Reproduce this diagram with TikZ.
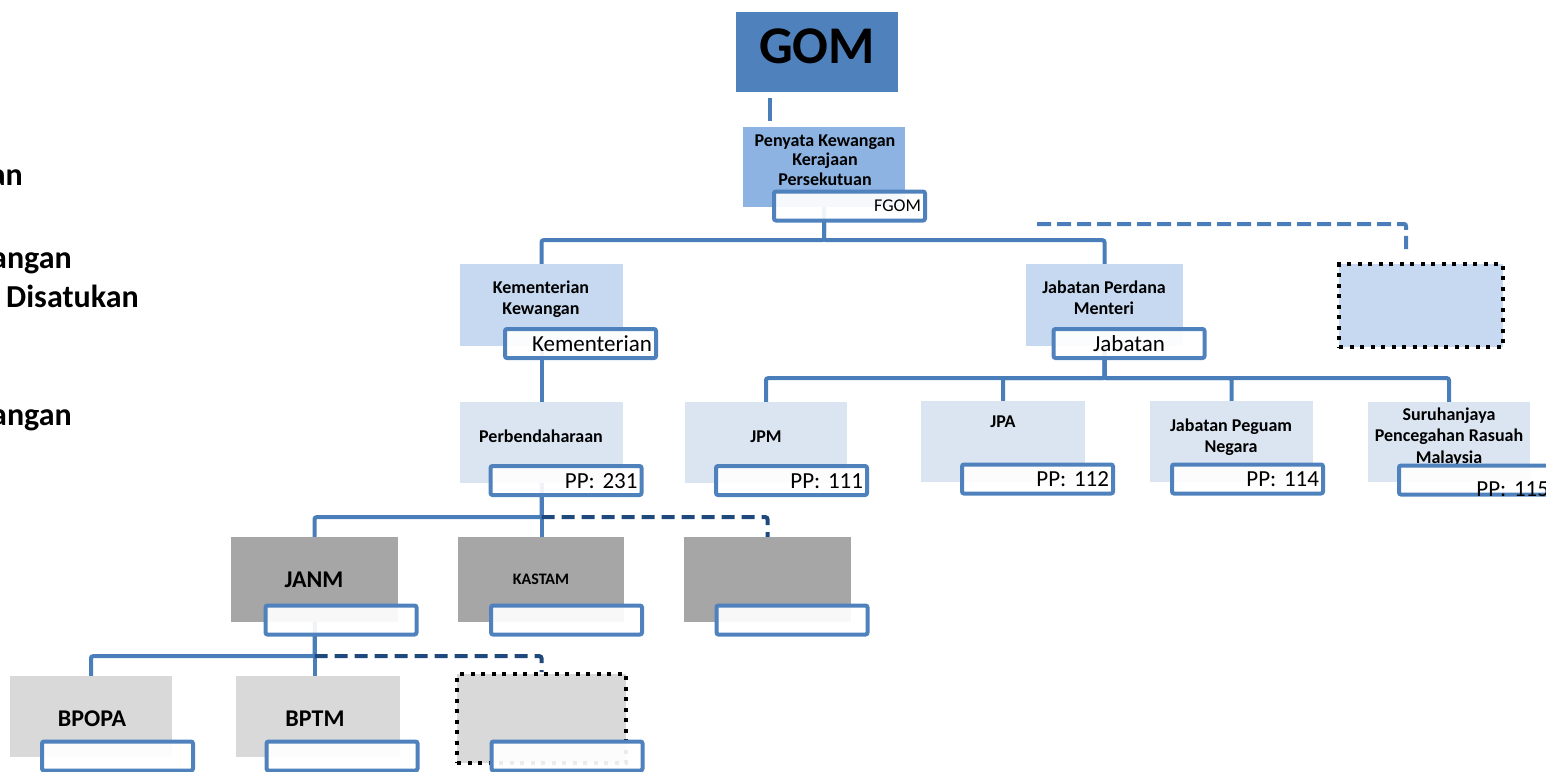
\documentclass[tikz,border=0pt]{standalone}
\usepackage{fontspec}
\setmainfont{Carlito}

\definecolor{gomblue}{HTML}{4F81BD}
\definecolor{midblue}{HTML}{8DB3E2}
\definecolor{softblue}{HTML}{C6D9F1}
\definecolor{paleblue}{HTML}{DBE5F1}
\definecolor{darkgrey}{HTML}{A6A6A6}
\definecolor{lightgrey}{HTML}{D9D9D9}
\definecolor{linkblue}{HTML}{4A7EBB}
\definecolor{navyline}{HTML}{1F497D}

\begin{document}
\begin{tikzpicture}[
    x=1pt, y=-1pt,
    box/.style={rectangle, inner sep=0pt, minimum width=163pt, minimum height=81pt},
    newbox/.style={box, draw=black, line width=4pt, dash pattern=on 4pt off 6.5pt},
    title/.style={anchor=base, align=center, inner sep=0pt, font=\fontsize{18}{20.5}\selectfont\bfseries},
    side/.style={inner sep=0pt, font=\fontsize{32}{38}\selectfont\bfseries},
    tag/.style={draw=gomblue, line width=4pt, rounded corners=2pt, fill=white, fill opacity=0.92, text opacity=1,
        minimum height=29pt, inner xsep=4pt, inner ysep=0pt, text width=143pt, align=right,
        text height=15pt, text depth=0pt, font=\fontsize{23}{26}\selectfont},
    link/.style={draw=linkblue, line width=4pt, rounded corners=2pt},
    dashlink/.style={link, dash pattern=on 14pt off 6pt},
    navylink/.style={link, draw=navyline, dash pattern=on 13pt off 7pt}
]
    \useasboundingbox (0,0) rectangle (1546,771);

    % Side text (cut at the left edge)
    \node[side, anchor=base east] (side1) at (23,185) {an};
    \node[side, anchor=base east] (side2) at (72,268) {angan};
    \node[side, anchor=base west] (side3) at (6,307) {Disatukan};
    \node[side, anchor=base east] (side4) at (72,425) {angan};

    % Boxes
    \node[box, fill=gomblue, minimum width=162pt, minimum height=80pt] (gom) at (817,52) {};
    \node[box, fill=midblue, minimum width=162pt, minimum height=80pt] (pkk) at (824,167) {};
    \node[box, fill=softblue, minimum height=82pt] (kemkew) at (541.5,305) {};
    \node[box, fill=softblue, minimum width=157pt, minimum height=82pt] (jpmen) at (1104.5,305) {};
    \node[newbox, fill=softblue, minimum width=164pt, minimum height=83pt] (newblue) at (1421,305.5) {};
    \node[box, fill=paleblue] (pbd) at (541.5,442.5) {};
    \node[box, fill=paleblue, minimum width=162pt] (jpm) at (766,442.5) {};
    \node[box, fill=paleblue, minimum width=164pt] (jpa) at (1003,441.5) {};
    \node[box, fill=paleblue] (peguam) at (1231.5,441.5) {};
    \node[box, fill=paleblue, minimum width=162pt, minimum height=80pt] (sprm) at (1449,442) {};
    \node[box, fill=darkgrey, minimum width=167pt, minimum height=85pt] (janm) at (314.5,579.5) {};
    \node[box, fill=darkgrey, minimum width=166pt, minimum height=85pt] (kastam) at (541,579.5) {};
    \node[box, fill=darkgrey, minimum width=167pt, minimum height=85pt] (blank) at (767.5,579.5) {};
    \node[box, fill=lightgrey, minimum width=162pt] (bpopa) at (91,716.5) {};
    \node[box, fill=lightgrey, minimum width=164pt] (bptm) at (318,716.5) {};
    \node[newbox, fill=lightgrey, minimum width=169pt, minimum height=89pt] (newgrey) at (541.5,718.5) {};

    % Box titles (base = last line)
    \node[title, font=\fontsize{53}{60}\selectfont\bfseries] (gom-txt) at (817,63) {GOM};
    \node[title, font=\fontsize{18}{19.5}\selectfont\bfseries] (pkk-txt) at (825,185) {Penyata Kewangan\\Kerajaan\\Persekutuan};
    \node[title] (kemkew-txt) at (541,314) {Kementerian\\Kewangan};
    \node[title] (jpmen-txt) at (1104,314) {Jabatan Perdana\\Menteri};
    \node[title] (pbd-txt) at (541,442) {Perbendaharaan};
    \node[title] (jpm-txt) at (766,442) {JPM};
    \node[title] (jpa-txt) at (1003,427) {JPA};
    \node[title] (peguam-txt) at (1231,452) {Jabatan Peguam\\Negara};
    \node[title, font=\fontsize{18}{21.5}\selectfont\bfseries] (sprm-txt) at (1449,463) {Suruhanjaya\\Pencegahan Rasuah\\Malaysia};
    \node[title, font=\fontsize{24}{28}\selectfont\bfseries] (janm-txt) at (314,587) {JANM};
    \node[title, font=\fontsize{16}{19}\selectfont\bfseries] (kastam-txt) at (541,584) {KASTAM};
    \node[title, font=\fontsize{24}{28}\selectfont\bfseries] (bpopa-txt) at (92,726) {BPOPA};
    \node[title, font=\fontsize{24}{28}\selectfont\bfseries] (bptm-txt) at (315,726) {BPTM};

    % Connectors
    \draw[link] ([xshift=34pt,yshift=-6pt]gom.south west) -- ([xshift=27pt,yshift=6pt]pkk.north west);
    \draw[link] (pkk.south) -- ++(0,33) -| (kemkew.north);
    \draw[link] (pkk.south) -- ++(0,33) -| (jpmen.north);
    \coordinate (assist) at (1037,224);
    \draw[dashlink] (assist) -| ([xshift=-15pt,yshift=13pt]newblue.north);

    \draw[link] (kemkew.south) -- (pbd.north);
    \draw[link] (jpmen.south) -- ++(0,32) -| (jpm.north);
    \draw[link] (jpmen.south) -- ++(0,32) -| (jpa.north);
    \draw[link] (jpmen.south) -- ++(0,32) -| (peguam.north);
    \draw[link] (jpmen.south) -- ++(0,32) -| (sprm.north);

    \draw[link] (pbd.south) -- (pbd.south |- kastam.north);
    \draw[link] (pbd.south) -- ++(0,34) -| (janm.north);
    \draw[navylink] ([yshift=-34pt]pbd.south) -| (blank.north);

    \draw[link] (janm.south) -- (janm.south |- bptm.north);
    \draw[link] (janm.south) -- ++(0,34) -| (bpopa.north);
    \draw[navylink] ([yshift=-34pt]janm.south) -| (newgrey.north);

    % Tags
    \node[tag, text height=11.6pt, font=\fontsize{18}{21}\selectfont] (pkk-tag) at (849.5,206) {FGOM};
    \node[tag] (kemkew-tag) at (580.5,343.5) {Kementerian};
    \node[tag, align=center] (jpmen-tag) at (1129,343.5) {Jabatan};
    \node[tag] (pbd-tag) at (566,480.5) {PP: 231};
    \node[tag] (jpm-tag) at (791.5,480.5) {PP: 111};
    \node[tag] (jpa-tag) at (1037.5,479) {PP: 112};
    \node[tag] (peguam-tag) at (1247.5,479) {PP: 114};
    \node[tag, text width=146pt] (sprm-tag) at (1476,480) {\raisebox{-9pt}{PP: 115}};
    \node[tag] (janm-tag) at (341,620) {};
    \node[tag] (kastam-tag) at (566.5,620) {};
    \node[tag] (blank-tag) at (792,620) {};
    \node[tag] (bpopa-tag) at (117.5,756) {};
    \node[tag] (bptm-tag) at (342,756) {};
    \node[tag] (newgrey-tag) at (567,756) {};

\end{tikzpicture}
\end{document}
